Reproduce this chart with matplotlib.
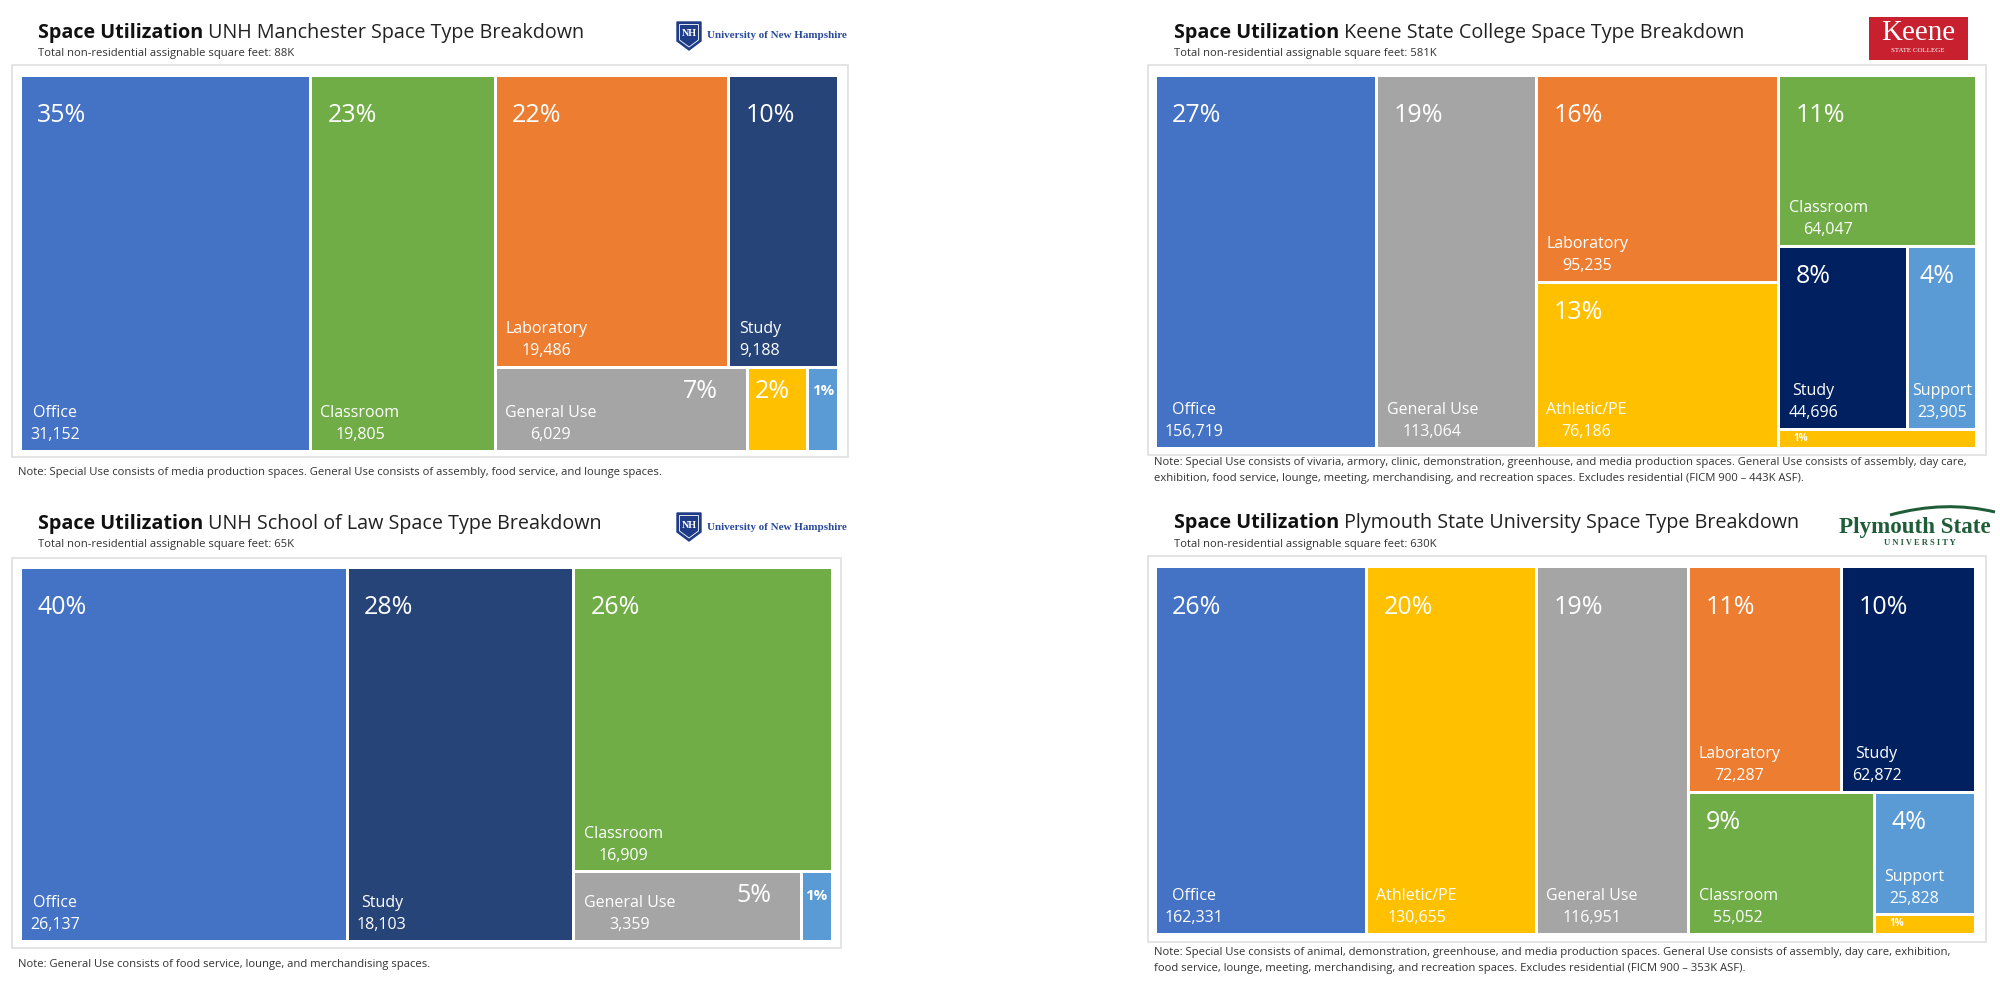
import math
import matplotlib
matplotlib.use("Agg")
import matplotlib.pyplot as plt
from matplotlib.patches import Rectangle, Polygon, PathPatch
from matplotlib.path import Path

plt.rcParams['font.family'] = ['Open Sans', 'DejaVu Sans']

# ---------------- data ----------------
man_cats = ["Office", "Classroom", "Laboratory", "Study", "General Use", "Special Use", "Support"]
man_vals = [31152, 19805, 19486, 9188, 6029, 1429, 751]
man_pcts = ["35%", "23%", "22%", "10%", "7%", "2%", "1%"]

keene_cats = ["Office", "General Use", "Laboratory", "Athletic/PE", "Classroom", "Study", "Support", "Special Use"]
keene_vals = [156719, 113064, 95235, 76186, 64047, 44696, 23905, 7000]
keene_pcts = ["27%", "19%", "16%", "13%", "11%", "8%", "4%", "1%"]

law_cats = ["Office", "Study", "Classroom", "General Use", "Support"]
law_vals = [26137, 18103, 16909, 3359, 470]
law_pcts = ["40%", "28%", "26%", "5%", "1%"]

ply_cats = ["Office", "Athletic/PE", "General Use", "Laboratory", "Study", "Classroom", "Support", "Special Use"]
ply_vals = [162331, 130655, 116951, 72287, 62872, 55052, 25828, 4000]
ply_pcts = ["26%", "20%", "19%", "11%", "10%", "9%", "4%", "1%"]

man_title = ("Space Utilization", " UNH Manchester Space Type Breakdown")
keene_title = ("Space Utilization", " Keene State College Space Type Breakdown")
law_title = ("Space Utilization", " UNH School of Law Space Type Breakdown")
ply_title = ("Space Utilization", " Plymouth State University Space Type Breakdown")

man_sub = "Total non-residential assignable square feet: 88K"
keene_sub = "Total non-residential assignable square feet: 581K"
law_sub = "Total non-residential assignable square feet: 65K"
ply_sub = "Total non-residential assignable square feet: 630K"

man_note = ["Note: Special Use consists of media production spaces. General Use consists of assembly, food service, and lounge spaces."]
keene_note = ["Note: Special Use consists of vivaria, armory, clinic, demonstration, greenhouse, and media production spaces. General Use consists of assembly, day care,",
              "exhibition, food service, lounge, meeting, merchandising, and recreation spaces. Excludes residential (FICM 900 \u2013 443K ASF)."]
law_note = ["Note: General Use consists of food service, lounge, and merchandising spaces."]
ply_note = ["Note: Special Use consists of animal, demonstration, greenhouse, and media production spaces. General Use consists of assembly, day care, exhibition,",
            "food service, lounge, meeting, merchandising, and recreation spaces. Excludes residential (FICM 900 \u2013 353K ASF)."]

base_colors = {"Office": "#4472C4", "Classroom": "#70AD47", "Laboratory": "#ED7D31",
               "General Use": "#A5A5A5", "Special Use": "#FFC000", "Athletic/PE": "#FFC000",
               "Support": "#5B9BD5"}

FW, FH = 2000, 1000
PT = 0.72  # points per pixel at dpi 100


def px(v):
    return v * PT


def squarify(values, W, H, target=1.3):
    rects = [None] * len(values)
    x, y, w, h = 0.0, 0.0, float(W), float(H)
    rest = float(sum(values))
    lt = math.log(target)
    i, n = 0, len(values)
    while i < n:
        rows = w < h

        def worst(seg):
            s = sum(seg)
            if rows:
                th = h * s / rest
                return max(abs(math.log(th / (w * v / s)) - lt) for v in seg)
            tw = w * s / rest
            return max(abs(math.log((h * v / s) / tw) - lt) for v in seg)

        j = i + 1
        best = worst(values[i:j])
        while j < n:
            sc = worst(values[i:j + 1])
            if sc > best:
                break
            best, j = sc, j + 1
        s = sum(values[i:j])
        if rows:
            th = h * s / rest
            cx = x
            for k in range(i, j):
                ww = w * values[k] / s
                rects[k] = (cx, y, ww, th)
                cx += ww
            y += th
            h -= th
        else:
            tw = w * s / rest
            cy = y
            for k in range(i, j):
                hh = h * values[k] / s
                rects[k] = (x, cy, tw, hh)
                cy += hh
            x += tw
            w -= tw
        rest -= s
        i = j
    return rects


panels = [
    dict(cats=man_cats, vals=man_vals, pcts=man_pcts, study="#264478",
         box=(21, 76, 837, 449), frame=(12, 65, 848, 457),
         tx=38, ty=33, sy=53.5, title=man_title, sub=man_sub, note=man_note, nx=18, ny=473),
    dict(cats=keene_cats, vals=keene_vals, pcts=keene_pcts, study="#002060",
         box=(1156, 76, 1974, 446), frame=(1148, 65, 1986, 455),
         tx=1174, ty=33, sy=53.5, title=keene_title, sub=keene_sub, note=keene_note, nx=1154, ny=463),
    dict(cats=law_cats, vals=law_vals, pcts=law_pcts, study="#264478",
         box=(21, 568, 831, 939), frame=(12, 558, 841, 948),
         tx=38, ty=524, sy=545, title=law_title, sub=law_sub, note=law_note, nx=18, ny=965),
    dict(cats=ply_cats, vals=ply_vals, pcts=ply_pcts, study="#002060",
         box=(1156, 567, 1973, 932), frame=(1148, 556, 1986, 942),
         tx=1174, ty=523, sy=545, title=ply_title, sub=ply_sub, note=ply_note, nx=1154, ny=953),
]

fig = plt.figure(figsize=(20, 10), dpi=100, facecolor="white")
over = fig.add_axes([0, 0, 1, 1])
over.set_xlim(0, FW)
over.set_ylim(FH, 0)
over.axis("off")
renderer = fig.canvas.get_renderer()


def draw_tile(ax, rect, color, name, value, pct):
    x, y, w, h = rect
    ax.add_patch(Rectangle((x, y), w, h, facecolor=color, edgecolor="white", linewidth=px(3)))
    vx, vy, vw, vh = x + 1.5, y + 1.5, w - 3, h - 3
    at_top = y < 1e-6
    if vw >= 60 and vh >= 60:
        lx = 9 if vw >= 90 else 4
        ax.text(vx + lx, vy + vh - 6, f"{name}\n{value:,}", ha="left", va="bottom",
                multialignment="center", linespacing=1.5, fontsize=px(16), color="white")
        if vh >= 110:
            off = 40 if at_top else 29.5
            ax.text(vx + (16 if vw >= 90 else 11), vy + off, pct, ha="left", va="center",
                    fontsize=px(25), color="white")
        else:
            ax.text(vx + vw - 28, vy + 23, pct, ha="right", va="center", fontsize=px(25), color="white")
    elif vh < 30:
        ax.text(vx + 14, vy + vh / 2, pct, ha="left", va="center", fontsize=px(10),
                fontweight="bold", color="white")
    elif vw < 40:
        ax.text(vx + vw / 2, vy + 23, pct, ha="center", va="center", fontsize=px(15),
                fontweight="bold", color="white")
    else:
        ax.text(vx + 6, vy + 23, pct, ha="left", va="center", fontsize=px(25), color="white")


for p in panels:
    x0, y0, x1, y1 = p["box"]
    W, H = x1 - x0 + 3, y1 - y0 + 3
    ax = fig.add_axes([(x0 - 1.5) / FW, 1 - (y1 + 1.5) / FH, W / FW, H / FH])
    ax.set_xlim(0, W)
    ax.set_ylim(H, 0)
    ax.axis("off")
    rects = squarify(p["vals"], W, H)
    for cat, val, pct, r in zip(p["cats"], p["vals"], p["pcts"], rects):
        col = p["study"] if cat == "Study" else base_colors[cat]
        draw_tile(ax, r, col, cat, val, pct)

    # frame
    fx0, fy0, fx1, fy1 = p["frame"]
    over.add_patch(Rectangle((fx0, fy0), fx1 - fx0, fy1 - fy0, fill=False,
                             edgecolor="#E4E4E4", linewidth=px(2)))
    # title
    t1 = over.text(p["tx"], p["ty"], p["title"][0], ha="left", va="center",
                   fontsize=px(19.8), fontweight="bold", color="#111111")
    bb = t1.get_window_extent(renderer=renderer)
    xe = over.transData.inverted().transform((bb.x1, bb.y0))[0]
    over.text(xe, p["ty"], p["title"][1], ha="left", va="center",
              fontsize=px(19.8), color="#222222")
    over.text(p["tx"], p["sy"], p["sub"], ha="left", va="center", fontsize=px(11.3), color="#333333")
    for k, line in enumerate(p["note"]):
        over.text(p["nx"], p["ny"] + 16 * k, line, ha="left", va="center",
                  fontsize=px(11.3), color="#333333")


# ---------------- logos ----------------
def unh_logo(x, y):
    navy = "#1E3C87"
    over.add_patch(Polygon([(x, y), (x + 24, y), (x + 24, y + 19), (x + 12, y + 28), (x, y + 19)],
                           closed=True, facecolor=navy, edgecolor=navy))
    over.add_patch(Polygon([(x + 2.5, y + 2.5), (x + 21.5, y + 2.5), (x + 21.5, y + 18), (x + 12, y + 25),
                            (x + 2.5, y + 18)], closed=True, fill=False, edgecolor="white", linewidth=0.6))
    over.text(x + 12, y + 12, "NH", ha="center", va="center", fontsize=px(10), fontweight="bold",
              color="white", family=["Liberation Serif"])
    over.text(x + 30, y + 14, "University of New Hampshire", ha="left", va="center",
              fontsize=px(11), fontweight="bold", color="#2A4A9A", family=["Liberation Serif"])


unh_logo(677, 22)
unh_logo(677, 513)

# Keene
over.add_patch(Rectangle((1869, 17), 99, 43, facecolor="#C8202F", edgecolor="none"))
over.text(1918, 33, "Keene", ha="center", va="center", fontsize=px(29), color="white",
          family=["Liberation Serif"])
over.text(1918, 50, "STATE COLLEGE", ha="center", va="center", fontsize=px(7), color="white",
          family=["Liberation Serif"])

# Plymouth
green = "#1F5C38"
over.text(1915, 527, "Plymouth State", ha="center", va="center", fontsize=px(23),
          fontweight="bold", color=green, family=["Liberation Serif"])
over.text(1920, 543, "U N I V E R S I T Y", ha="center", va="center", fontsize=px(8.5),
          fontweight="bold", color=green, family=["Liberation Serif"])
sw = Path([(1890, 515), (1945, 500), (1995, 512)], [Path.MOVETO, Path.CURVE3, Path.CURVE3])
over.add_patch(PathPatch(sw, fill=False, edgecolor=green, linewidth=px(3)))

fig.savefig("out.png", dpi=100, facecolor="white")
